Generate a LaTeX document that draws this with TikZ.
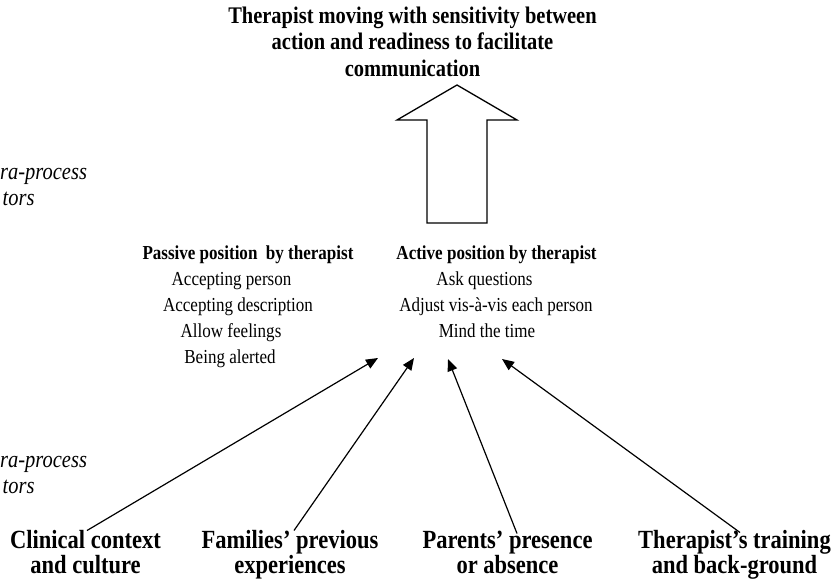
\documentclass[tikz,border=0pt]{standalone}
\usepackage{fontspec}
\setmainfont{Liberation Serif}[FakeStretch=0.86]
\usetikzlibrary{arrows.meta}
\begin{document}
\begin{tikzpicture}[x=1pt,y=-1pt,
  titletext/.style={font=\fontsize{23.8}{26.5}\selectfont\bfseries, align=center, inner sep=0, anchor=north},
  headtext/.style={font=\fontsize{19.8}{22}\selectfont\bfseries, anchor=base, inner sep=0},
  itemtext/.style={font=\fontsize{19.8}{22}\selectfont, anchor=base, inner sep=0},
  factortext/.style={font=\fontsize{26.2}{25}\selectfont\bfseries, align=center, inner sep=0, anchor=north},
  sidetext/.style={font=\fontsize{23.8}{26}\selectfont\itshape, anchor=base west, inner sep=0},
  conn/.style={line width=1.2pt, -{Triangle[length=12pt,width=10pt]}},
  bigarrow/.style={line width=1.3pt, line join=miter}
]
\path[use as bounding box] (0,0) rectangle (835,581);

% title
\node[titletext] (title) at (412.5,6.5) {Therapist moving with sensitivity between\\action and readiness to facilitate\\communication};

% big hollow arrow
\draw[bigarrow] (457,85) -- (517,120) -- (487,120) -- (487,223) -- (427,223) -- (427,120) -- (397,120) -- cycle;

% side labels
\node[sidetext] (side1a) at (0,179) {ra-process};
\node[sidetext] (side1b) at (2.5,205) {tors};
\node[sidetext] (side2a) at (0,467) {ra-process};
\node[sidetext] (side2b) at (2.5,493) {tors};

% passive block
\node[headtext] (phead) at (248,259.5) {Passive position \ by therapist};
\node[itemtext] (p1) at (231.5,285) {Accepting person};
\node[itemtext] (p2) at (238,311) {Accepting description};
\node[itemtext] (p3) at (231,337) {Allow feelings};
\node[itemtext] (p4) at (230,363) {Being alerted};

% active block
\node[headtext] (ahead) at (496.5,259.5) {Active position by therapist};
\node[itemtext] (a1) at (484.5,285) {Ask questions};
\node[itemtext] (a2) at (496,311) {Adjust vis-à-vis each person};
\node[itemtext] (a3) at (487,337) {Mind the time};

% factors
\node[factortext] (clin) at (85.5,530.5) {Clinical context\\and culture};
\node[factortext] (fam) at (290,530.5) {Families’ previous\\experiences};
\node[factortext] (par) at (507.5,530.5) {Parents’ presence\\or absence};
\node[factortext] (ther) at (734.5,530.5) {Therapist’s training\\and back-ground};

% arrow tips
\coordinate (tipA) at (378,358);
\coordinate (tipB) at (414,358);
\coordinate (tipC) at (448,359);
\coordinate (tipD) at (502,359);

\draw[conn] ([xshift=1.5pt]clin.north) -- (tipA);
\draw[conn] ([xshift=4pt]fam.north) -- (tipB);
\draw[conn] ([xshift=9.5pt,yshift=-3pt]par.north) -- (tipC);
\draw[conn] ([xshift=5.5pt,yshift=-2pt]ther.north) -- (tipD);
\end{tikzpicture}
\end{document}
